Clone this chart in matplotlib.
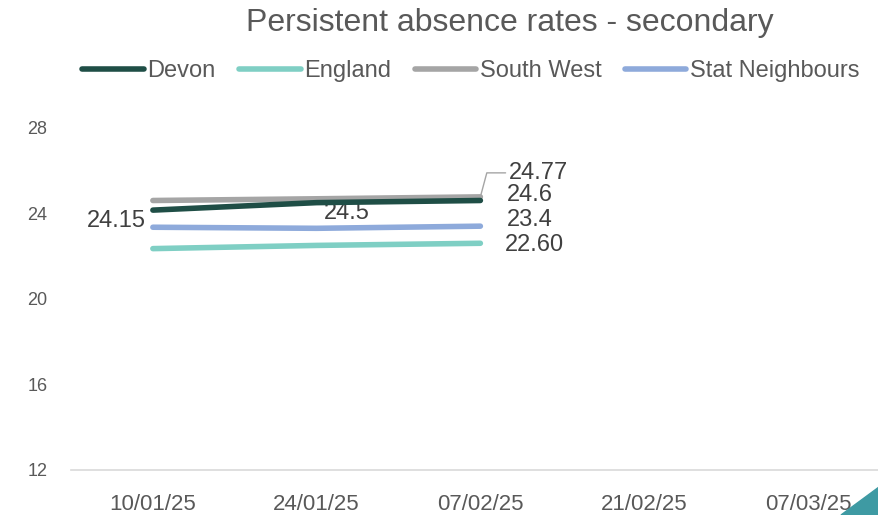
"""Persistent absence rates - secondary: line chart recreation."""

import matplotlib
matplotlib.use("Agg")
import matplotlib.pyplot as plt
from matplotlib.patches import Polygon

plt.rcParams.update({"font.family": ["Liberation Sans", "DejaVu Sans"],
                     "text.color": "#595959"})

dates = ["10/01/25", "24/01/25", "07/02/25", "21/02/25", "07/03/25"]
devon = [24.15, 24.5, 24.6]
england = [22.35, 22.5, 22.60]
south_west = [24.6, 24.68, 24.77]
stat_neighbours = [23.35, 23.3, 23.4]
yticks = [12, 16, 20, 24, 28]

C = dict(devon="#1f4e46", england="#7fcfc4", sw="#a5a5a5", sn="#8eaadb")

W, H = 879, 515
fig = plt.figure(figsize=(W / 100, H / 100), dpi=100)
ax = fig.add_axes([71 / W, 1 - 470 / H, (W - 71) / W, 385 / H])

x = list(range(len(devon)))
ax.plot(x, devon, color=C["devon"], lw=4, solid_capstyle="round", label="Devon", zorder=4)
ax.plot(x, england, color=C["england"], lw=4, solid_capstyle="round", label="England")
ax.plot(x, south_west, color=C["sw"], lw=4, solid_capstyle="round", label="South West", zorder=3)
ax.plot(x, stat_neighbours, color=C["sn"], lw=4, solid_capstyle="round", label="Stat Neighbours")

ax.set_xlim(-0.5, -0.5 + (W - 71) / 163.75)
ax.set_ylim(12, 30)
ax.set_xticks(range(len(dates)))
ax.set_xticklabels(dates)
ax.set_yticks(yticks)
ax.tick_params(length=0, labelsize=13, labelcolor="#595959")
ax.tick_params(axis="x", pad=17, labelsize=16)
ax.tick_params(axis="y", pad=17)
for s in ("top", "right", "left"):
    ax.spines[s].set_visible(False)
ax.spines["bottom"].set_color("#d9d9d9")
ax.spines["bottom"].set_linewidth(1.2)

lab = dict(fontsize=17, color="#404040", textcoords="offset pixels")
ax.annotate(f"{devon[0]:.2f}", (0, devon[0]), xytext=(-7, -11), ha="right", va="center", **lab)
ax.annotate(f"{devon[1]}", (1, devon[1]), xytext=(30, -10), ha="center", va="center", **lab)
ax.annotate(f"{south_west[2]}", (2, south_west[2]), xytext=(28, 24), ha="left", va="center",
            arrowprops=dict(arrowstyle="-", color="#a5a5a5", lw=1,
                            connectionstyle="angle,angleA=0,angleB=75,rad=0",
                            shrinkA=0, shrinkB=0), **lab)
ax.annotate(f"{devon[2]}", (2, devon[2]), xytext=(26, 5), ha="left", va="center", **lab)
ax.annotate(f"{stat_neighbours[2]}", (2, stat_neighbours[2]), xytext=(26, 6), ha="left", va="center", **lab)
ax.annotate(f"{england[2]:.2f}", (2, england[2]), xytext=(25, -2), ha="left", va="center", **lab)

fig.text(510 / W, 1 - 23 / H, "Persistent absence rates - secondary",
         ha="center", va="center", fontsize=23, color="#595959")
fig.legend(loc="center", bbox_to_anchor=(471 / W, 1 - 71 / H), ncol=4, frameon=False,
           fontsize=17, handlelength=2.6, handletextpad=0.15, columnspacing=1.0,
           labelcolor="#595959")

# teal corner decoration
fig.patches.append(Polygon([(1, 0), (1, 28 / H), (1 - 38 / W, 0)], closed=True,
                           transform=fig.transFigure, color="#3e9aa3"))

fig.savefig("out.png")
